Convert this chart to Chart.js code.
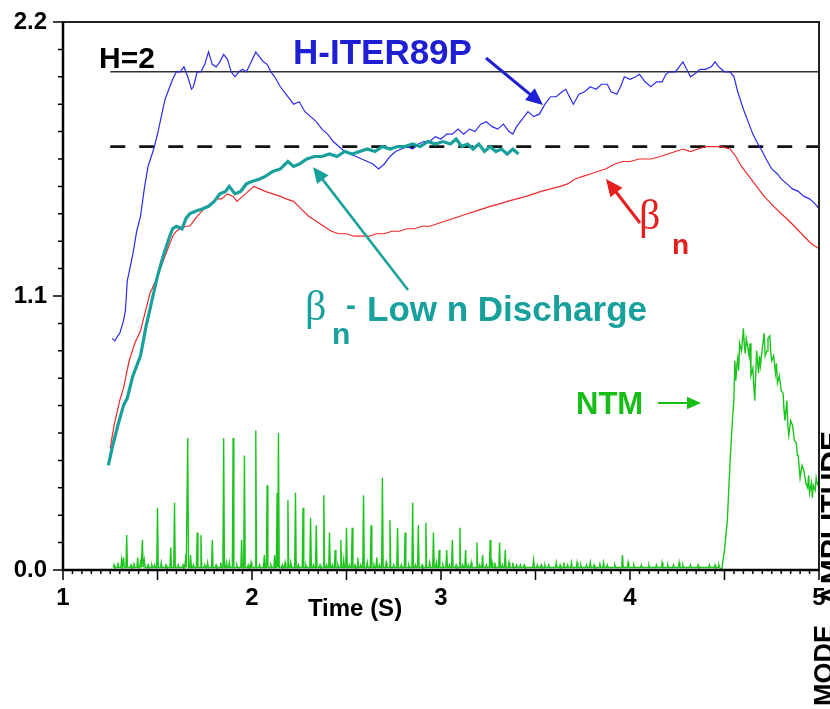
<!DOCTYPE html>
<html>
<head>
<meta charset="utf-8">
<script src="https://cdn.jsdelivr.net/npm/chart.js@4.4.1/dist/chart.umd.min.js"></script>
<style>
  body { margin: 0; background: #fff; }
  #wrap { width: 830px; height: 709px; position: relative; }
</style>
</head>
<body>
<div id="wrap"><canvas id="plasmaCanvas" width="830" height="709"></canvas></div>
<script>
// time axis (s) and values
const blueT = [1.26, 1.275, 1.29, 1.30, 1.32, 1.33, 1.34, 1.37, 1.39, 1.41, 1.43, 1.45, 1.48, 1.50, 1.52, 1.54, 1.56, 1.58, 1.60, 1.62, 1.64, 1.66, 1.68, 1.69, 1.71, 1.73, 1.75, 1.77, 1.79, 1.81, 1.83, 1.85, 1.87, 1.89, 1.91, 1.93, 1.95, 1.97, 1.99, 2.02, 2.04, 2.06, 2.08, 2.10, 2.12, 2.15, 2.19, 2.22, 2.25, 2.28, 2.31, 2.34, 2.37, 2.40, 2.43, 2.46, 2.49, 2.52, 2.55, 2.58, 2.61, 2.64, 2.67, 2.70, 2.73, 2.76, 2.79, 2.82, 2.85, 2.88, 2.91, 2.94, 2.97, 3.00, 3.03, 3.06, 3.09, 3.12, 3.15, 3.18, 3.21, 3.24, 3.27, 3.30, 3.33, 3.36, 3.38, 3.40, 3.43, 3.46, 3.49, 3.52, 3.55, 3.58, 3.61, 3.64, 3.66, 3.68, 3.70, 3.73, 3.76, 3.79, 3.82, 3.85, 3.88, 3.90, 3.93, 3.95, 3.97, 4.00, 4.03, 4.05, 4.08, 4.11, 4.14, 4.17, 4.19, 4.21, 4.24, 4.26, 4.28, 4.30, 4.32, 4.34, 4.37, 4.40, 4.43, 4.45, 4.47, 4.50, 4.53, 4.55, 4.57, 4.60, 4.63, 4.65, 4.67, 4.70, 4.72, 4.75, 4.78, 4.80, 4.83, 4.86, 4.89, 4.92, 4.95, 4.98, 5.0];
const blueV = [0.93, 0.92, 0.94, 0.95, 1.00, 1.04, 1.16, 1.27, 1.36, 1.42, 1.53, 1.62, 1.69, 1.75, 1.82, 1.89, 1.93, 1.97, 2.00, 2.00, 2.02, 1.98, 1.93, 1.94, 2.00, 2.00, 2.03, 2.08, 2.03, 2.02, 2.04, 2.07, 2.05, 2.00, 1.98, 2.00, 2.01, 2.00, 2.03, 2.08, 2.06, 2.04, 2.03, 2.00, 1.98, 1.94, 1.90, 1.87, 1.88, 1.84, 1.82, 1.80, 1.77, 1.75, 1.72, 1.70, 1.68, 1.67, 1.66, 1.65, 1.64, 1.63, 1.61, 1.63, 1.66, 1.68, 1.69, 1.70, 1.69, 1.71, 1.72, 1.72, 1.74, 1.73, 1.75, 1.75, 1.77, 1.75, 1.77, 1.76, 1.79, 1.80, 1.78, 1.77, 1.79, 1.76, 1.75, 1.78, 1.81, 1.84, 1.82, 1.83, 1.87, 1.90, 1.90, 1.92, 1.93, 1.90, 1.87, 1.91, 1.92, 1.94, 1.93, 1.95, 1.95, 1.92, 1.91, 1.94, 1.98, 1.97, 1.98, 1.99, 1.96, 1.94, 1.96, 1.96, 1.99, 2.00, 2.00, 2.02, 2.04, 2.01, 1.98, 1.99, 2.01, 2.01, 2.02, 2.04, 2.02, 2.00, 2.00, 1.98, 1.92, 1.85, 1.79, 1.75, 1.72, 1.68, 1.65, 1.61, 1.59, 1.57, 1.55, 1.53, 1.52, 1.50, 1.49, 1.47, 1.45];

const redT = [1.25, 1.27, 1.30, 1.32, 1.35, 1.38, 1.41, 1.44, 1.46, 1.49, 1.51, 1.545, 1.58, 1.60, 1.62, 1.65, 1.67, 1.69, 1.71, 1.745, 1.78, 1.81, 1.84, 1.87, 1.90, 1.92, 1.95, 1.98, 2.01, 2.04, 2.07, 2.11, 2.15, 2.18, 2.22, 2.26, 2.30, 2.34, 2.38, 2.42, 2.46, 2.50, 2.54, 2.58, 2.62, 2.66, 2.70, 2.74, 2.78, 2.82, 2.86, 2.90, 2.94, 2.98, 3.02, 3.06, 3.10, 3.14, 3.18, 3.22, 3.26, 3.31, 3.35, 3.40, 3.45, 3.49, 3.53, 3.58, 3.63, 3.67, 3.71, 3.75, 3.79, 3.83, 3.87, 3.92, 3.96, 4.00, 4.05, 4.11, 4.16, 4.20, 4.24, 4.28, 4.32, 4.36, 4.40, 4.44, 4.48, 4.53, 4.56, 4.59, 4.63, 4.67, 4.71, 4.76, 4.80, 4.83, 4.87, 4.92, 4.96, 5.0];
const redV = [0.49, 0.58, 0.68, 0.73, 0.84, 0.91, 0.96, 1.05, 1.11, 1.16, 1.20, 1.27, 1.34, 1.36, 1.37, 1.38, 1.38, 1.40, 1.42, 1.45, 1.47, 1.49, 1.49, 1.51, 1.50, 1.48, 1.50, 1.52, 1.54, 1.53, 1.52, 1.51, 1.50, 1.49, 1.48, 1.45, 1.42, 1.40, 1.38, 1.36, 1.35, 1.35, 1.34, 1.34, 1.34, 1.35, 1.35, 1.36, 1.36, 1.37, 1.37, 1.38, 1.38, 1.39, 1.40, 1.41, 1.42, 1.43, 1.44, 1.45, 1.46, 1.47, 1.48, 1.49, 1.50, 1.51, 1.52, 1.53, 1.54, 1.55, 1.57, 1.58, 1.59, 1.60, 1.61, 1.63, 1.64, 1.64, 1.65, 1.65, 1.66, 1.67, 1.68, 1.69, 1.68, 1.69, 1.70, 1.70, 1.70, 1.69, 1.66, 1.62, 1.58, 1.54, 1.50, 1.46, 1.43, 1.41, 1.38, 1.34, 1.31, 1.29];

const tealT = [1.24, 1.26, 1.29, 1.32, 1.34, 1.37, 1.41, 1.44, 1.47, 1.50, 1.53, 1.56, 1.58, 1.60, 1.63, 1.65, 1.67, 1.70, 1.74, 1.77, 1.80, 1.83, 1.86, 1.88, 1.91, 1.94, 1.97, 2.00, 2.04, 2.07, 2.11, 2.15, 2.19, 2.22, 2.25, 2.29, 2.33, 2.37, 2.41, 2.45, 2.49, 2.53, 2.57, 2.61, 2.65, 2.69, 2.73, 2.77, 2.81, 2.85, 2.89, 2.93, 2.97, 3.01, 3.05, 3.08, 3.11, 3.14, 3.17, 3.20, 3.23, 3.26, 3.29, 3.32, 3.35, 3.38, 3.41];
const tealV = [0.42, 0.49, 0.58, 0.66, 0.69, 0.78, 0.86, 0.98, 1.08, 1.18, 1.26, 1.33, 1.37, 1.38, 1.37, 1.41, 1.43, 1.44, 1.45, 1.46, 1.48, 1.51, 1.52, 1.54, 1.51, 1.52, 1.55, 1.56, 1.57, 1.58, 1.60, 1.61, 1.64, 1.62, 1.63, 1.65, 1.66, 1.66, 1.67, 1.66, 1.68, 1.67, 1.68, 1.69, 1.68, 1.70, 1.69, 1.70, 1.70, 1.71, 1.70, 1.72, 1.71, 1.72, 1.71, 1.73, 1.70, 1.71, 1.69, 1.71, 1.68, 1.70, 1.68, 1.69, 1.67, 1.69, 1.67];

// NTM probe: isolated spikes before the mode locks in
const spikeT = [1.27, 1.29, 1.31, 1.32, 1.337, 1.36, 1.375, 1.395, 1.41, 1.42, 1.43, 1.45, 1.47, 1.485, 1.50, 1.52, 1.545, 1.57, 1.59, 1.61, 1.635, 1.648, 1.66, 1.675, 1.69, 1.71, 1.73, 1.75, 1.765, 1.79, 1.81, 1.835, 1.85, 1.865, 1.88, 1.90, 1.92, 1.945, 1.96, 1.98, 1.995, 2.02, 2.04, 2.065, 2.08, 2.10, 2.12, 2.133, 2.14, 2.16, 2.175, 2.19, 2.205, 2.23, 2.245, 2.27, 2.285, 2.31, 2.325, 2.34, 2.36, 2.38, 2.395, 2.41, 2.425, 2.44, 2.455, 2.47, 2.485, 2.50, 2.515, 2.53, 2.545, 2.56, 2.575, 2.59, 2.61, 2.63, 2.645, 2.66, 2.675, 2.69, 2.71, 2.73, 2.75, 2.77, 2.79, 2.81, 2.83, 2.85, 2.865, 2.88, 2.90, 2.92, 2.94, 2.96, 2.975, 2.99, 3.01, 3.03, 3.045, 3.06, 3.08, 3.10, 3.115, 3.13, 3.145, 3.16, 3.19, 3.205, 3.22, 3.24, 3.26, 3.27, 3.285, 3.31, 3.325, 3.34, 3.36, 3.38, 3.40, 3.42, 3.44, 3.49, 3.51, 3.53, 3.55, 3.57, 3.61, 3.63, 3.65, 3.67, 3.69, 3.72, 3.74, 3.77, 3.79, 3.81, 3.84, 3.86, 3.88, 3.92, 3.96, 3.99, 4.02, 4.06, 4.10, 4.14, 4.17, 4.20, 4.23, 4.26, 4.28, 4.32, 4.36, 4.42, 4.45, 4.47];
const spikeH = [0.02, 0.03, 0.04, 0.05, 0.14, 0.02, 0.03, 0.05, 0.03, 0.12, 0.04, 0.02, 0.02, 0.02, 0.25, 0.03, 0.02, 0.09, 0.27, 0.02, 0.02, 0.04, 0.53, 0.06, 0.02, 0.15, 0.14, 0.02, 0.03, 0.12, 0.02, 0.03, 0.53, 0.03, 0.03, 0.53, 0.02, 0.12, 0.46, 0.02, 0.03, 0.56, 0.02, 0.06, 0.34, 0.02, 0.06, 0.31, 0.55, 0.02, 0.03, 0.28, 0.03, 0.31, 0.02, 0.25, 0.02, 0.21, 0.02, 0.18, 0.02, 0.30, 0.02, 0.15, 0.02, 0.08, 0.02, 0.12, 0.04, 0.17, 0.02, 0.17, 0.02, 0.05, 0.02, 0.30, 0.03, 0.18, 0.02, 0.05, 0.02, 0.37, 0.03, 0.20, 0.02, 0.17, 0.02, 0.15, 0.02, 0.27, 0.02, 0.18, 0.02, 0.19, 0.03, 0.15, 0.03, 0.08, 0.02, 0.08, 0.02, 0.12, 0.02, 0.17, 0.02, 0.08, 0.02, 0.03, 0.11, 0.02, 0.06, 0.02, 0.12, 0.03, 0.03, 0.11, 0.02, 0.08, 0.03, 0.03, 0.02, 0.02, 0.02, 0.04, 0.02, 0.02, 0.02, 0.02, 0.03, 0.02, 0.03, 0.02, 0.03, 0.03, 0.02, 0.02, 0.03, 0.02, 0.03, 0.03, 0.02, 0.02, 0.06, 0.03, 0.02, 0.02, 0.02, 0.02, 0.03, 0.02, 0.02, 0.03, 0.02, 0.02, 0.02, 0.02, 0.02, 0.02];
// NTM amplitude once the mode appears
const ntmT = [4.485, 4.50, 4.515, 4.53, 4.54, 4.55, 4.555, 4.56, 4.565, 4.57, 4.575, 4.58, 4.59, 4.60, 4.605, 4.61, 4.615, 4.62, 4.63, 4.635, 4.64, 4.65, 4.655, 4.66, 4.67, 4.68, 4.685, 4.69, 4.70, 4.71, 4.715, 4.725, 4.73, 4.74, 4.745, 4.75, 4.76, 4.77, 4.775, 4.78, 4.79, 4.80, 4.81, 4.815, 4.82, 4.83, 4.835, 4.84, 4.85, 4.86, 4.87, 4.88, 4.885, 4.89, 4.90, 4.91, 4.92, 4.93, 4.94, 4.945, 4.95, 4.96, 4.965, 4.97, 4.98, 4.985, 4.99, 5.0];
const ntmV = [0.00, 0.08, 0.20, 0.44, 0.58, 0.69, 0.84, 0.76, 0.82, 0.85, 0.80, 0.91, 0.88, 0.97, 0.90, 0.87, 0.93, 0.91, 0.86, 0.91, 0.78, 0.81, 0.74, 0.68, 0.88, 0.79, 0.86, 0.82, 0.89, 0.95, 0.86, 0.88, 0.93, 0.94, 0.87, 0.84, 0.86, 0.79, 0.83, 0.75, 0.78, 0.72, 0.71, 0.64, 0.60, 0.68, 0.58, 0.54, 0.60, 0.58, 0.52, 0.51, 0.46, 0.46, 0.37, 0.42, 0.40, 0.35, 0.33, 0.38, 0.31, 0.35, 0.29, 0.34, 0.32, 0.37, 0.35, 0.33];

const refT = [1.25, 5.0];
const hLevel = [2.0, 2.0];
const betaLimit = [1.7, 1.7];

const xTicks = [1, 2, 3, 4, 5];
const yTicks = [0.0, 1.1, 2.2];

function pairs(ts, vs) {
    return ts.map((t, i) => ({ x: t, y: vs[i] }));
}

// each probe spike is drawn as a narrow tent on the baseline
const ntmPoints = [];
spikeT.forEach((t, i) => {
    ntmPoints.push({ x: t - 0.004, y: 0.01 });
    ntmPoints.push({ x: t, y: spikeH[i] });
    ntmPoints.push({ x: t + 0.004, y: 0.01 });
});
pairs(ntmT, ntmV).forEach(p => ntmPoints.push(p));

const FONT = "'Liberation Sans', Arial, sans-serif";

const overlay = {
    id: "overlay",
    afterDraw(chart) {
        const { ctx, chartArea: a, scales } = chart;
        const sx = scales.x, sy = scales.y;
        ctx.save();

        // frame
        ctx.strokeStyle = "#222";
        ctx.lineWidth = 2;
        ctx.strokeRect(a.left, a.top, a.right - a.left, a.bottom - a.top);
        ctx.lineWidth = 2.5;
        ctx.strokeStyle = "#000";
        ctx.beginPath();
        ctx.moveTo(a.left, a.top);
        ctx.lineTo(a.left, a.bottom);
        ctx.lineTo(a.right, a.bottom);
        ctx.stroke();

        // tick marks
        ctx.lineWidth = 1.5;
        ctx.beginPath();
        for (let i = 0; i <= 20; i++) {
            const py = sy.getPixelForValue(i * 0.11);
            const len = i % 10 === 0 ? 10 : 5;
            ctx.moveTo(a.left - len, py);
            ctx.lineTo(a.left, py);
        }
        for (let i = 0; i <= 80; i++) {
            const px = sx.getPixelForValue(1 + i * 0.05);
            const len = i % 10 === 0 ? 10 : 4;
            ctx.moveTo(px, a.bottom);
            ctx.lineTo(px, a.bottom + len);
        }
        ctx.stroke();

        function arrow(x1, y1, x2, y2, color, w, head) {
            const ang = Math.atan2(y2 - y1, x2 - x1);
            ctx.strokeStyle = color;
            ctx.fillStyle = color;
            ctx.lineWidth = w;
            ctx.beginPath();
            ctx.moveTo(x1, y1);
            ctx.lineTo(x2 - Math.cos(ang) * head * 0.8, y2 - Math.sin(ang) * head * 0.8);
            ctx.stroke();
            ctx.beginPath();
            ctx.moveTo(x2, y2);
            ctx.lineTo(x2 - head * Math.cos(ang) + head * 0.45 * Math.sin(ang), y2 - head * Math.sin(ang) - head * 0.45 * Math.cos(ang));
            ctx.lineTo(x2 - head * Math.cos(ang) - head * 0.45 * Math.sin(ang), y2 - head * Math.sin(ang) + head * 0.45 * Math.cos(ang));
            ctx.closePath();
            ctx.fill();
        }

        ctx.textBaseline = "alphabetic";
        ctx.textAlign = "left";

        // H=2
        ctx.fillStyle = "#000";
        ctx.font = "bold 30px " + FONT;
        ctx.fillText("H=2", 99, 68);

        // H-ITER89P
        ctx.fillStyle = "#1e1ed2";
        ctx.font = "bold 35px " + FONT;
        ctx.fillText("H-ITER89P", 293, 64);
        arrow(486, 58, 543, 105, "#1e1ed2", 3, 17);

        // beta_n (red)
        ctx.fillStyle = "#e61e1e";
        ctx.font = "42px 'Liberation Serif', serif";
        ctx.fillText("\u03b2", 639, 229);
        ctx.font = "bold 28px " + FONT;
        ctx.fillText("n", 672, 254);
        arrow(640, 223, 606, 179, "#e61e1e", 3, 17);

        // beta_n - Low n Discharge (teal)
        ctx.fillStyle = "#17a09c";
        ctx.font = "42px 'Liberation Serif', serif";
        ctx.fillText("\u03b2", 305, 320);
        ctx.font = "bold 30px " + FONT;
        ctx.fillText("n", 332, 344);
        ctx.fillText("-", 346, 315);
        ctx.font = "bold 35px " + FONT;
        ctx.fillText("Low n Discharge", 367, 321);
        arrow(408, 290, 313, 167, "#17a09c", 2.5, 16);

        // NTM
        ctx.fillStyle = "#18be18";
        ctx.font = "bold 31px " + FONT;
        ctx.fillText("NTM", 576, 414);
        arrow(658, 403, 701, 403, "#18be18", 2, 14);

        // x axis title
        ctx.fillStyle = "#000";
        ctx.font = "bold 24px " + FONT;
        ctx.textAlign = "center";
        ctx.fillText("Time (S)", 355, 616);

        // right-hand axis title, mostly off the page
        ctx.translate(833, 706);
        ctx.rotate(-Math.PI / 2);
        ctx.textAlign = "left";
        ctx.font = "bold 27px " + FONT;
        ctx.fillText("MODE", 0, 0);
        ctx.font = "bold 30px " + FONT;
        ctx.fillText("AMPLITUDE", 100, 8);

        ctx.restore();
    }
};

const plasmaChart = new Chart(document.getElementById("plasmaCanvas"), {
    type: "line",
    data: {
        datasets: [
            { label: "beta_n low n", data: pairs(tealT, tealV), borderColor: "#17a09c", borderWidth: 3.2 },
            { label: "beta_n", data: pairs(redT, redV), borderColor: "#ee2a2a", borderWidth: 1.2 },
            { label: "H-ITER89P", data: pairs(blueT, blueV), borderColor: "#2b2bef", borderWidth: 1.2 },
            { label: "NTM", data: ntmPoints, borderColor: "#1ec41e", borderWidth: 1.4 },
            { label: "H=2", data: pairs(refT, hLevel), borderColor: "#333", borderWidth: 1.6 },
            { label: "limit", data: pairs(refT, betaLimit), borderColor: "#111", borderWidth: 2.8, borderDash: [15, 14] },
        ],
    },
    options: {
        responsive: false,
        animation: false,
        events: [],
        elements: { point: { radius: 0 }, line: { tension: 0, fill: false } },
        layout: { padding: { top: 22, right: 11, left: 0, bottom: 0 } },
        plugins: { legend: { display: false }, tooltip: { enabled: false } },
        scales: {
            x: {
                type: "linear",
                min: 1,
                max: 5,
                afterFit: (s) => { s.height = 139; s.paddingLeft = 0; s.paddingRight = 0; },
                afterBuildTicks: (s) => { s.ticks = xTicks.map(v => ({ value: v })); },
                grid: { display: false, drawTicks: false },
                border: { display: false },
                ticks: {
                    padding: 14,
                    color: "#000",
                    maxRotation: 0,
                    font: { family: FONT, size: 24, weight: "bold" },
                    callback: (v) => String(v),
                },
            },
            y: {
                type: "linear",
                min: 0,
                max: 2.2,
                afterFit: (s) => { s.width = 63; s.paddingTop = 0; s.paddingBottom = 0; },
                afterBuildTicks: (s) => { s.ticks = yTicks.map(v => ({ value: v })); },
                grid: { display: false, drawTicks: false },
                border: { display: false },
                ticks: {
                    padding: 16,
                    color: "#000",
                    font: { family: FONT, size: 24, weight: "bold" },
                    callback: (v) => Number(v).toFixed(1),
                },
            },
        },
    },
    plugins: [overlay],
});
</script>
</body>
</html>
